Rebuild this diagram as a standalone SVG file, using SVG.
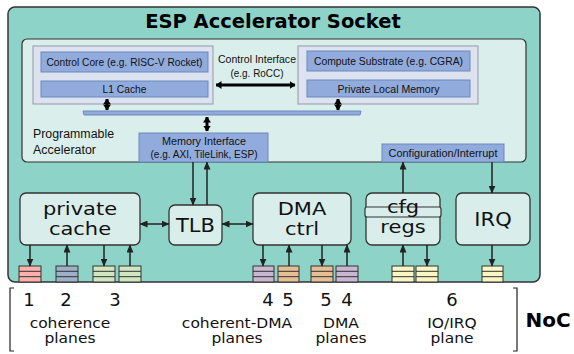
<svg xmlns="http://www.w3.org/2000/svg" width="574" height="354" viewBox="0 0 574 354">
<style>
.sm{font-family:"Liberation Sans",Arial,sans-serif;font-size:10.5px;fill:#111;text-anchor:middle}
.big{font-family:"DejaVu Sans",sans-serif;font-size:21px;fill:#111;text-anchor:middle}
.lab{font-family:"DejaVu Sans",sans-serif;font-size:15.5px;fill:#111;text-anchor:middle}
.num{font-family:"DejaVu Sans",sans-serif;font-size:18px;fill:#111;text-anchor:middle}
.box{fill:#d9eeeb;stroke:#333;stroke-width:1.3}
.grp{fill:#dde2f0;stroke:#a0a6b4;stroke-width:1.2}
.blue{fill:#90abdc;stroke:#6d88bb;stroke-width:1}
.qs{stroke:#333;stroke-width:1}
.c{stroke:#222;stroke-width:1.5;fill:none}
.tk{stroke:#000;stroke-width:3;fill:none}
.br{stroke:#222;stroke-width:1.2;fill:none}
</style>
<defs>
<marker id="ah" markerUnits="userSpaceOnUse" markerWidth="8" markerHeight="7" refX="7.5" refY="3.5" orient="auto-start-reverse" viewBox="0 0 8 7">
<path d="M0,0 L8,3.5 L0,7 Z" fill="#222"/>
</marker>
<marker id="th" markerUnits="userSpaceOnUse" markerWidth="6" markerHeight="8" refX="5.5" refY="4" orient="auto-start-reverse" viewBox="0 0 6 8">
<path d="M0,0 L6,4 L0,8 Z" fill="#000"/>
</marker>
</defs>
<rect width="574" height="354" fill="#fff"/>
<g id="socket">
<rect x="8" y="7" width="532" height="275" rx="7" fill="#8dd3c7" stroke="#333" stroke-width="1.5"/>
<text x="273" y="28" style="font-family:'DejaVu Sans',sans-serif;font-weight:bold;font-size:19.5px;fill:#000;text-anchor:middle">ESP Accelerator Socket</text>
</g>
<g id="prog-acc">
<rect x="22" y="39" width="504" height="123" rx="5" fill="#daeeeb" stroke="#333" stroke-width="1.2"/>
<text x="33" y="138" textLength="81" lengthAdjust="spacingAndGlyphs" style="font-family:'Liberation Sans',Arial,sans-serif;font-size:12px;fill:#111">Programmable</text>
<text x="33" y="154" textLength="63" lengthAdjust="spacingAndGlyphs" style="font-family:'Liberation Sans',Arial,sans-serif;font-size:12px;fill:#111">Accelerator</text>
</g>
<g id="control-core-group">
<rect class="grp" x="33" y="46" width="180" height="58"/>
</g>
<g id="control-core">
<rect class="blue" x="41" y="52" width="167" height="20"/>
<text class="sm" x="124.5" y="66" textLength="156" lengthAdjust="spacingAndGlyphs">Control Core (e.g. RISC-V Rocket)</text>
</g>
<g id="l1-cache">
<rect class="blue" x="41" y="81" width="167" height="16"/>
<text class="sm" x="124.5" y="93" textLength="44" lengthAdjust="spacingAndGlyphs">L1 Cache</text>
</g>
<g id="compute-group">
<rect class="grp" x="298" y="46" width="180" height="58"/>
</g>
<g id="compute-substrate">
<rect class="blue" x="307" y="51" width="163" height="20"/>
<text class="sm" x="388.5" y="65" textLength="149" lengthAdjust="spacingAndGlyphs">Compute Substrate (e.g. CGRA)</text>
</g>
<g id="private-local-memory">
<rect class="blue" x="307" y="80" width="163" height="17"/>
<text class="sm" x="388.5" y="93" textLength="102" lengthAdjust="spacingAndGlyphs">Private Local Memory</text>
</g>
<g id="bus">
<path d="M83,111 L361,111 L360,115 L84,115 Z" fill="#90abdc" stroke="#6d88bb" stroke-width="1"/>
</g>
<g id="control-interface-label">
<text class="sm" x="257" y="63" textLength="78" lengthAdjust="spacingAndGlyphs">Control Interface</text>
<text class="sm" x="257" y="77" textLength="53" lengthAdjust="spacingAndGlyphs">(e.g. RoCC)</text>
</g>
<g id="memory-interface">
<rect class="blue" x="139" y="133" width="129" height="29"/>
<text class="sm" x="204" y="145" textLength="84" lengthAdjust="spacingAndGlyphs">Memory Interface</text>
<text class="sm" x="204" y="158" textLength="107" lengthAdjust="spacingAndGlyphs">(e.g. AXI, TileLink, ESP)</text>
</g>
<g id="config-interrupt">
<rect class="blue" x="382" y="144" width="122" height="18"/>
<text class="sm" x="443" y="157" textLength="109" lengthAdjust="spacingAndGlyphs">Configuration/Interrupt</text>
</g>
<g id="private-cache">
<rect class="box" x="20" y="193" width="120" height="52" rx="6"/>
<text class="big" transform="translate(80,214.5) scale(1,0.82)">private</text>
<text class="big" transform="translate(80,234.5) scale(1,0.82)">cache</text>
</g>
<g id="tlb">
<rect class="box" x="169" y="205" width="53" height="40" rx="6"/>
<text class="big" transform="translate(195.5,232) scale(1,0.9)">TLB</text>
</g>
<g id="dma-ctrl">
<rect class="box" x="253" y="193" width="98" height="52" rx="6"/>
<text class="big" transform="translate(302,214.5) scale(1,0.82)">DMA</text>
<text class="big" transform="translate(302,234.5) scale(1,0.82)">ctrl</text>
</g>
<g id="cfg-regs">
<rect class="box" x="366" y="193" width="74" height="52" rx="6"/>
<rect x="365" y="207" width="76" height="10" rx="2" fill="#d9eeeb" stroke="#333" stroke-width="1.2"/>
<text class="big" transform="translate(403,213) scale(1,0.82)">cfg</text>
<text class="big" transform="translate(403,233) scale(1,0.82)">regs</text>
</g>
<g id="irq">
<rect class="box" x="456" y="193" width="74" height="52" rx="6"/>
<text class="big" transform="translate(493,226) scale(1,0.9)">IRQ</text>
</g>
<g id="queues">
<g id="q1"><rect x="19" y="266" width="22" height="16" fill="#fbb0ab" stroke="#333"/><path class="qs" d="M19,271.3H41M19,276.7H41"/></g>
<g id="q2"><rect x="56" y="266" width="22" height="16" fill="#9cb0c8" stroke="#333"/><path class="qs" d="M56,271.3H78M56,276.7H78"/></g>
<g id="q3a"><rect x="93" y="266" width="22" height="16" fill="#cfe6c0" stroke="#333"/><path class="qs" d="M93,271.3H115M93,276.7H115"/></g>
<g id="q3b"><rect x="119" y="266" width="22" height="16" fill="#cfe6c0" stroke="#333"/><path class="qs" d="M119,271.3H141M119,276.7H141"/></g>
<g id="q4a"><rect x="253" y="266" width="21" height="16" fill="#c8b6d2" stroke="#333"/><path class="qs" d="M253,271.3H274M253,276.7H274"/></g>
<g id="q5a"><rect x="278" y="266" width="21" height="16" fill="#e6be94" stroke="#333"/><path class="qs" d="M278,271.3H299M278,276.7H299"/></g>
<g id="q5b"><rect x="311" y="266" width="22" height="16" fill="#e6be94" stroke="#333"/><path class="qs" d="M311,271.3H333M311,276.7H333"/></g>
<g id="q4b"><rect x="336" y="266" width="22" height="16" fill="#c8b6d2" stroke="#333"/><path class="qs" d="M336,271.3H358M336,276.7H358"/></g>
<g id="q6a"><rect x="392" y="266" width="22" height="16" fill="#f9f5c4" stroke="#333"/><path class="qs" d="M392,271.3H414M392,276.7H414"/></g>
<g id="q6b"><rect x="416" y="266" width="22" height="16" fill="#f9f5c4" stroke="#333"/><path class="qs" d="M416,271.3H438M416,276.7H438"/></g>
<g id="q6c"><rect x="482" y="266" width="21" height="16" fill="#f9f5c4" stroke="#333"/><path class="qs" d="M482,271.3H503M482,276.7H503"/></g>
</g>
<g id="connectors">
<line class="tk" x1="216" y1="85" x2="295" y2="85" marker-start="url(#th)" marker-end="url(#th)"/>
<line class="tk" x1="107" y1="99" x2="107" y2="110" marker-start="url(#th)" marker-end="url(#th)"/>
<line class="tk" x1="338" y1="99" x2="338" y2="110" marker-start="url(#th)" marker-end="url(#th)"/>
<line class="tk" x1="207" y1="117" x2="207" y2="131" marker-start="url(#th)" marker-end="url(#th)"/>
<line class="c" x1="193" y1="162" x2="193" y2="205" marker-end="url(#ah)"/>
<line class="c" x1="207" y1="205" x2="207" y2="162" marker-end="url(#ah)"/>
<line class="c" x1="140" y1="224" x2="169" y2="224" marker-start="url(#ah)" marker-end="url(#ah)"/>
<line class="c" x1="222" y1="224" x2="253" y2="224" marker-start="url(#ah)" marker-end="url(#ah)"/>
<line class="c" x1="403" y1="193" x2="403" y2="162" marker-end="url(#ah)"/>
<line class="c" x1="492" y1="162" x2="492" y2="193" marker-end="url(#ah)"/>
<line class="c" x1="30" y1="245" x2="30" y2="266" marker-end="url(#ah)"/>
<line class="c" x1="67" y1="266" x2="67" y2="245" marker-end="url(#ah)"/>
<line class="c" x1="104" y1="245" x2="104" y2="266" marker-end="url(#ah)"/>
<line class="c" x1="130" y1="266" x2="130" y2="245" marker-end="url(#ah)"/>
<line class="c" x1="263" y1="245" x2="263" y2="266" marker-end="url(#ah)"/>
<line class="c" x1="289" y1="266" x2="289" y2="245" marker-end="url(#ah)"/>
<line class="c" x1="322" y1="245" x2="322" y2="266" marker-end="url(#ah)"/>
<line class="c" x1="347" y1="266" x2="347" y2="245" marker-end="url(#ah)"/>
<line class="c" x1="403" y1="266" x2="403" y2="245" marker-end="url(#ah)"/>
<line class="c" x1="427" y1="245" x2="427" y2="266" marker-end="url(#ah)"/>
<line class="c" x1="492" y1="245" x2="492" y2="266" marker-end="url(#ah)"/>
</g>
<g id="noc">
<path class="br" d="M14,288 H10 V351 H14"/>
<path class="br" d="M513,288 H517 V351 H513"/>
<text class="num" x="29" y="306">1</text>
<text class="num" x="66" y="306">2</text>
<text class="num" x="115" y="306">3</text>
<text class="num" x="268" y="306">4</text>
<text class="num" x="288" y="306">5</text>
<text class="num" x="326" y="306">5</text>
<text class="num" x="347" y="306">4</text>
<text class="num" x="452" y="306">6</text>
<text class="lab" transform="translate(70,328) scale(1,0.85)">coherence</text>
<text class="lab" transform="translate(70,343) scale(1,0.85)">planes</text>
<text class="lab" transform="translate(237,328) scale(1,0.85)">coherent-DMA</text>
<text class="lab" transform="translate(237,343) scale(1,0.85)">planes</text>
<text class="lab" transform="translate(341,328) scale(1,0.85)">DMA</text>
<text class="lab" transform="translate(341,343) scale(1,0.85)">planes</text>
<text class="lab" transform="translate(452,328) scale(1,0.85)">IO/IRQ</text>
<text class="lab" transform="translate(452,343) scale(1,0.85)">plane</text>
<text x="548" y="327" style="font-family:'DejaVu Sans',sans-serif;font-weight:bold;font-size:20px;fill:#000;text-anchor:middle">NoC</text>
</g>
</svg>
